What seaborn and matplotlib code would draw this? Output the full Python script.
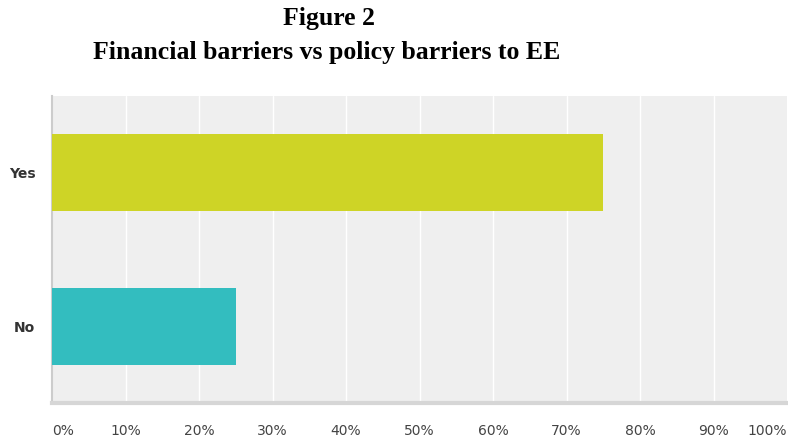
import matplotlib
matplotlib.use("Agg")
import matplotlib.pyplot as plt
import seaborn as sns
import pandas as pd

# data
answers = ["Yes", "No"]
percent = [75, 25]
bar_colors = ["#ced426", "#33bdbf"]
tick_vals = [0, 10, 20, 30, 40, 50, 60, 70, 80, 90, 100]

df = pd.DataFrame({"answer": answers, "percent": percent})

sns.set_style("white")
plt.rcParams["font.family"] = ["DejaVu Sans"]
fig = plt.figure(figsize=(7.88, 4.41), dpi=100)
ax = fig.add_axes([52 / 788, 1 - 403 / 441, 735 / 788, 307 / 441])
ax.set_facecolor("#efefef")

sns.barplot(data=df, x="percent", y="answer", hue="answer", palette=bar_colors,
            orient="h", width=0.5, saturation=1, linewidth=0, legend=False,
            ax=ax, zorder=3)

ax.set_xlim(0, 100)
ax.set_ylim(1.5, -0.5)
ax.set_xticks(tick_vals)
ax.set_xticklabels([f"{v}%" for v in tick_vals], fontsize=10, color="#444444")
xlabs = ax.get_xticklabels()
xlabs[0].set_ha("left")
xlabs[-1].set_ha("right")
for v in tick_vals[1:-1]:
    ax.axvline(v, color="white", lw=1, zorder=1)
ax.tick_params(axis="x", length=0, pad=15)
ax.tick_params(axis="y", length=0, pad=12)
for lab in ax.get_yticklabels():
    lab.set_fontweight("bold")
    lab.set_fontsize(10)
    lab.set_color("#333333")
ax.set_xlabel("")
ax.set_ylabel("")

for s in ["top", "right"]:
    ax.spines[s].set_visible(False)
ax.spines["left"].set_color("#cccccc")
ax.spines["left"].set_linewidth(1.5)
ax.spines["bottom"].set_color("#d6d6d6")
ax.spines["bottom"].set_linewidth(3)

fig.text(329 / 788, 1 - 19 / 441, "Figure 2", ha="center", va="center",
         fontsize=18.5, fontweight="bold", fontfamily="Liberation Serif",
         color="black")
fig.text(327 / 788, 1 - 53 / 441, "Financial barriers vs policy barriers to EE",
         ha="center", va="center", fontsize=18.5, fontweight="bold",
         fontfamily="Liberation Serif", color="black")

fig.savefig("out.png", dpi=100)
